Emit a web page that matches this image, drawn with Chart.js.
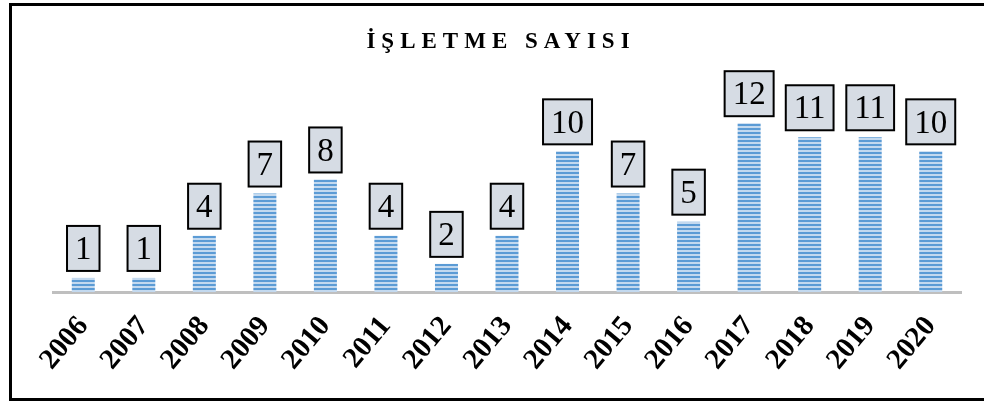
<!DOCTYPE html>
<html>
<head>
<meta charset="utf-8">
<script src="https://cdn.jsdelivr.net/npm/chart.js@4/dist/chart.umd.min.js"></script>
<style>
  html, body { margin: 0; padding: 0; background: #fff; }
  #wrap { position: relative; width: 984px; height: 401px; overflow: hidden; }
  #frame { position: absolute; left: 9px; top: 3px; width: 1000px; height: 392px; border: 3px solid #000; box-sizing: content-box; pointer-events: none; }
  canvas { position: absolute; left: 0; top: 0; }
  .pre { position: absolute; left: -1000px; top: 0; font-family: 'Liberation Serif'; }
</style>
</head>
<body>
<div id="wrap">
  <canvas id="c" width="984" height="401"></canvas>
  <div id="frame"></div>
</div>
<span class="pre">2006 İŞLETME</span><span class="pre" style="font-weight:bold">2006 İŞLETME</span>
<script>
const titleText = 'İŞLETME SAYISI';
const years = ['2006','2007','2008','2009','2010','2011','2012','2013','2014','2015','2016','2017','2018','2019','2020'];
const counts = [1, 1, 4, 7, 8, 4, 2, 4, 10, 7, 5, 12, 11, 11, 10];

const SERIF = "'Liberation Serif', 'Times New Roman', Times, serif";

function stripePattern() {
  const p = document.createElement('canvas');
  p.width = 4; p.height = 4;
  const g = p.getContext('2d');
  g.fillStyle = '#5b9bd5'; g.fillRect(0, 0, 4, 2);
  g.fillStyle = '#c3d9ef'; g.fillRect(0, 2, 4, 2);
  return document.getElementById('c').getContext('2d').createPattern(p, 'repeat');
}

const titlePlugin = {
  id: 'letterTitle',
  afterDraw(chart) {
    const ctx = chart.ctx;
    ctx.save();
    ctx.font = 'bold 23px ' + SERIF;
    ctx.fillStyle = '#000';
    ctx.textAlign = 'center';
    ctx.textBaseline = 'alphabetic';
    try { ctx.letterSpacing = '6px'; } catch (e) {}
    ctx.fillText(titleText, 501, 48);
    ctx.restore();
  }
};

const boxLabels = {
  id: 'boxLabels',
  afterDatasetsDraw(chart) {
    const ctx = chart.ctx;
    const meta = chart.getDatasetMeta(0);
    ctx.save();
    ctx.font = '33px ' + SERIF;
    meta.data.forEach((bar, i) => {
      const txt = String(chart.data.datasets[0].data[i]);
      const tw = ctx.measureText(txt).width;
      const w = tw + 16, h = 45;
      const x = bar.x - w / 2;
      const y = bar.y - 7 - h;
      ctx.fillStyle = '#d6dce4';
      ctx.fillRect(x, y, w, h);
      ctx.lineWidth = 2;
      ctx.strokeStyle = '#000';
      ctx.strokeRect(x, y, w, h);
      ctx.fillStyle = '#000';
      ctx.textAlign = 'center';
      ctx.textBaseline = 'middle';
      ctx.fillText(txt, bar.x, y + h / 2 + 2);
    });
    ctx.restore();
  }
};

function draw() {
  new Chart(document.getElementById('c'), {
    type: 'bar',
    data: {
      labels: years,
      datasets: [{
        data: counts,
        backgroundColor: stripePattern(),
        borderWidth: 0,
        barPercentage: 0.38,
        categoryPercentage: 1
      }]
    },
    options: {
      responsive: false,
      animation: false,
      layout: { padding: { top: 81, left: 53, right: 23, bottom: 0 } },
      plugins: { legend: { display: false }, tooltip: { enabled: false }, title: { display: false } },
      scales: {
        x: {
          grid: { display: false, drawTicks: false },
          border: { display: true, color: '#bfbfbf', width: 3 },
          ticks: {
            color: '#000',
            font: { family: SERIF, size: 29, weight: 'bold' },
            minRotation: 50, maxRotation: 50,
            padding: 18,
            autoSkip: false
          },
          afterFit(scale) { scale.height = 109; }
        },
        y: {
          display: false,
          min: 0, max: 15,
          afterFit(scale) { scale.width = 0; }
        }
      }
    },
    plugins: [titlePlugin, boxLabels]
  });
}

Promise.all([
  document.fonts.load("bold 29px 'Liberation Serif'"),
  document.fonts.load("33px 'Liberation Serif'")
]).then(draw, draw);
</script>
</body>
</html>
